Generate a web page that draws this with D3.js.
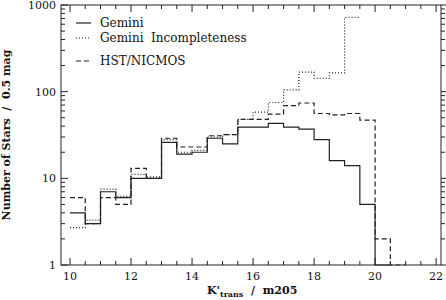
<!DOCTYPE html>
<html lang="en">
<head>
    <meta charset="UTF-8">
    <script src="https://d3js.org/d3.v7.min.js"></script>
    <style>
        body { margin: 0; background: #fff; }
        text { font-family: "DejaVu Serif", serif; fill: #111; }
    </style>
</head>
<body>
    <script>
        // declare variables
        const w = 446;
        const h = 300;

        // bin edges (mag), 0.5 mag bins
        const binEdges = [10, 10.5, 11, 11.5, 12, 12.5, 13, 13.5, 14, 14.5, 15,
            15.5, 16, 16.5, 17, 17.5, 18, 18.5, 19, 19.5, 20, 20.5, 21];

        // counts per bin
        const gemini = [4, 3, 7, 6, 10, 10, 26, 19, 20, 29, 25,
            39, 39, 43, 39, 37, 28, 16, 14, 5, 1];
        const geminiIncomp = [2.7, 3.3, 7.5, 6.2, 11.1, 10.4, 28, 20, 21, 30, 32,
            48, 58, 75, 105, 168, 142, 165, 720];
        const hst = [6, 3, 6, 5, 13, 10, 29, 23, 23, 31, 32,
            48, 48, 55, 69, 74, 56, 54, 56, 47, 2, 1];

        const seriesNames = ["Gemini", "Gemini  Incompleteness", "HST/NICMOS"];
        const seriesDash = [null, "1,2", "5,3"];

        const xTicks = [10, 12, 14, 16, 18, 20, 22];
        const yTicks = [1, 10, 100, 1000];

        const x = d3.scaleLinear().domain([9.705, 22.16]).range([61, 441]);
        const y = d3.scaleLog().domain([1, 1000]).range([265, 5]);

        const svg = d3.select("body").append("svg")
            .attr("width", w)
            .attr("height", h);

        // minor tick values
        const xMinor = d3.range(10, 22.01, 0.5).filter(d => !xTicks.includes(d));
        const yMinor = [];
        [1, 10, 100].forEach(dec => {
            for (let k = 2; k <= 9; k++) yMinor.push(dec * k);
        });

        const axes = svg.append("g").attr("stroke", "#222").attr("stroke-width", 1);

        // frame
        axes.append("rect")
            .attr("x", x.range()[0]).attr("y", y.range()[1])
            .attr("width", x.range()[1] - x.range()[0])
            .attr("height", y.range()[0] - y.range()[1])
            .attr("fill", "none");

        // bottom & top ticks (inward)
        const xt = xTicks.map(d => ({v: d, len: 7})).concat(xMinor.map(d => ({v: d, len: 4})));
        axes.selectAll(".xb").data(xt).enter().append("line")
            .attr("x1", d => x(d.v)).attr("x2", d => x(d.v))
            .attr("y1", 265).attr("y2", d => 265 - d.len);
        axes.selectAll(".xt").data(xt).enter().append("line")
            .attr("x1", d => x(d.v)).attr("x2", d => x(d.v))
            .attr("y1", 5).attr("y2", d => 5 + d.len);

        // left ticks inward, right ticks outward
        const yt = yTicks.map(d => ({v: d, len: 7})).concat(yMinor.map(d => ({v: d, len: 4})));
        axes.selectAll(".yl").data(yt).enter().append("line")
            .attr("y1", d => y(d.v)).attr("y2", d => y(d.v))
            .attr("x1", 61).attr("x2", d => 61 + d.len);
        axes.selectAll(".yr").data(yt).enter().append("line")
            .attr("y1", d => y(d.v)).attr("y2", d => y(d.v))
            .attr("x1", 441).attr("x2", d => 441 + d.len);

        // tick labels
        svg.selectAll(".xl").data(xTicks).enter().append("text")
            .attr("x", d => x(d)).attr("y", 280)
            .attr("text-anchor", "middle")
            .attr("font-size", 11)
            .text(d => d);
        svg.selectAll(".ylab").data(yTicks).enter().append("text")
            .attr("x", 56).attr("y", d => y(d) + 4)
            .attr("text-anchor", "end")
            .attr("font-size", 11)
            .text(d => d);

        // axis titles
        const xl = svg.append("text")
            .attr("x", 207).attr("y", 294)
            .attr("font-size", 11)
            .attr("font-weight", "bold");
        xl.append("tspan").text("K'");
        xl.append("tspan").attr("font-size", 8).attr("dy", 3).text("trans");
        xl.append("tspan").attr("dy", -3).style("white-space", "pre").text("  /  m205");

        svg.append("text")
            .attr("transform", "translate(10,135) rotate(-90)")
            .attr("text-anchor", "middle")
            .attr("font-size", 11)
            .attr("font-weight", "bold")
            .style("white-space", "pre")
            .text("Number of Stars  /  0.5 mag");

        // histograms as step lines
        const line = d3.line()
            .x(d => x(d[0]))
            .y(d => y(d[1]))
            .curve(d3.curveStepAfter);

        function steps(vals) {
            const pts = vals.map((v, i) => [binEdges[i], v]);
            pts.push([binEdges[vals.length], vals[vals.length - 1]]);
            return pts;
        }

        const allSeries = [gemini, geminiIncomp, hst];
        svg.selectAll(".hist").data(allSeries).enter().append("path")
            .attr("d", d => line(steps(d)))
            .attr("fill", "none")
            .attr("stroke", "#222")
            .attr("stroke-width", 1.2)
            .attr("stroke-dasharray", (d, i) => seriesDash[i]);

        // legend
        const legY = [23, 38, 61];
        const legend = svg.append("g");
        seriesNames.forEach((name, i) => {
            legend.append("line")
                .attr("x1", 76).attr("x2", 91)
                .attr("y1", legY[i]).attr("y2", legY[i])
                .attr("stroke", "#222")
                .attr("stroke-width", 1.2)
                .attr("stroke-dasharray", seriesDash[i]);
            legend.append("text")
                .attr("x", 100).attr("y", legY[i] + 4)
                .attr("font-size", 12)
                .style("white-space", "pre")
                .text(name);
        });
    </script>
</body>
</html>
